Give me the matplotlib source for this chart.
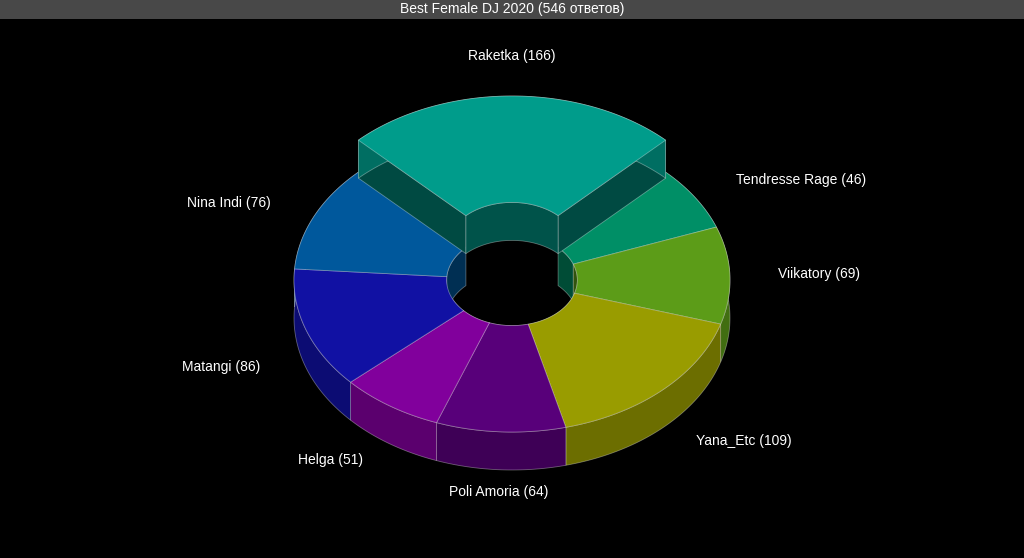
import numpy as np
import matplotlib.pyplot as plt
from matplotlib.patches import Polygon, Rectangle
from matplotlib.colors import to_rgb

plt.rcParams['font.family'] = ['Liberation Sans', 'DejaVu Sans']

labels = ['Raketka', 'Tendresse Rage', 'Viikatory', 'Yana_Etc',
          'Poli Amoria', 'Helga', 'Matangi', 'Nina Indi']
values = [166, 46, 69, 109, 64, 51, 86, 76]
colors = ['#00b8a4', '#00a878', '#6cb81c', '#b4b800',
          '#680090', '#9800b8', '#1414c0', '#0068b8']
title = 'Best Female DJ 2020 (546 ответов)'

CX, CY = 512, 280
RX, RY = 218, 152
HOLE = 0.3
DEPTH = 38
EXPLODE = 32


def pt(th, r, dx=0, dy=0, down=0):
    return (CX + dx + r * RX * np.cos(th), CY + dy - r * RY * np.sin(th) + down)


def arc(a0, a1, r, dx, dy, down=0, n=80):
    th = np.linspace(a0, a1, n)
    return [pt(t, r, dx, dy, down) for t in th]


def shade(c, f):
    return tuple(min(1, v * f) for v in to_rgb(c))


fig = plt.figure(figsize=(10.24, 5.58), dpi=100, facecolor='black')
ax = fig.add_axes([0, 0, 1, 1])
ax.set_facecolor('black')
ax.set_xlim(0, 1024)
ax.set_ylim(558, 0)
ax.axis('off')

total = sum(values)
angles = []
start = np.pi / 2 + np.pi * values[0] / total
for v in values:
    span = 2 * np.pi * v / total
    angles.append((start, start - span))
    start -= span

edge = (1, 1, 1, 0.35)


def offset(i):
    a0, a1 = angles[i]
    mid = (a0 + a1) / 2
    ex = EXPLODE if i == 0 else 0
    return mid, ex * np.cos(mid), -ex * np.sin(mid)


def draw_walls(i, sides):
    a0, a1 = angles[i]
    mid, dx, dy = offset(i)
    c = colors[i]
    if sides:
        for a in (a0, a1):
            poly = [pt(a, HOLE, dx, dy), pt(a, 1, dx, dy),
                    pt(a, 1, dx, dy, DEPTH), pt(a, HOLE, dx, dy, DEPTH)]
            ax.add_patch(Polygon(poly, fc=shade(c, 0.4), ec=edge, lw=0.6))
    inner = arc(a0, a1, HOLE, dx, dy) + arc(a1, a0, HOLE, dx, dy, DEPTH)
    ax.add_patch(Polygon(inner, fc=shade(c, 0.45), ec=edge, lw=0.6))
    outer = arc(a0, a1, 1, dx, dy) + arc(a1, a0, 1, dx, dy, DEPTH)
    ax.add_patch(Polygon(outer, fc=shade(c, 0.6), ec=edge, lw=0.6))


def draw_top(i):
    a0, a1 = angles[i]
    mid, dx, dy = offset(i)
    top = arc(a0, a1, 1, dx, dy) + arc(a1, a0, HOLE, dx, dy)
    ax.add_patch(Polygon(top, fc=shade(colors[i], 0.85), ec=edge, lw=0.6))
    lx, ly = pt(mid, 1.22, dx * 1.2, dy * 1.2)
    if np.sin(mid) < 0:
        ly += DEPTH * 0.7
    ha = 'center' if abs(np.cos(mid)) < 0.3 else ('left' if np.cos(mid) > 0 else 'right')
    ax.text(lx, ly, f'{labels[i]} ({values[i]})', color='white', fontsize=10,
            ha=ha, va='center')


rest = range(1, len(values))
for i in rest:
    draw_walls(i, sides=False)
for i in rest:
    draw_top(i)
draw_walls(0, sides=True)
draw_top(0)

ax.add_patch(Rectangle((0, 0), 1024, 19, fc='#484848', ec='none'))
ax.text(512, 9.5, title, color='white', fontsize=10, ha='center', va='center')

fig.savefig('out.png', facecolor='black')
